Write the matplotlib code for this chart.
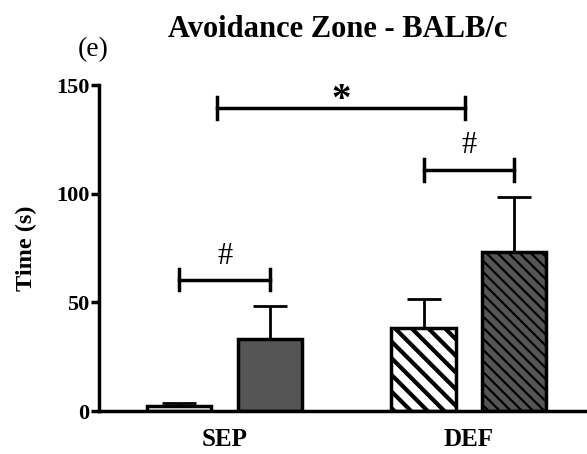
import numpy as np
import matplotlib
matplotlib.use('Agg')
import matplotlib.pyplot as plt

plt.rcParams['font.family'] = 'Liberation Serif'

groups = ['SEP', 'DEF']
means = [2.5, 33, 38, 73]
errs = [1.0, 15.5, 13.5, 25.5]
xs = [-0.186, 0.186, 1 - 0.186, 1 + 0.186]
colors = ['white', '#555555', 'white', '#555555']
hatches = [None, None, '\\\\', '\\\\\\']
hatch_lw = [1, 1, 3.0, 1.6]

fig = plt.figure(figsize=(5.87, 4.54), dpi=100)
ax = fig.add_axes([0.169, 0.0947, 0.831, 0.718])

w = 0.262
for x, m, e, c, h, hl in zip(xs, means, errs, colors, hatches, hatch_lw):
    plt.rcParams['hatch.linewidth'] = hl
    b = ax.bar(x, m, width=w, color=c, edgecolor='black', linewidth=2.5, hatch=h, zorder=2)
    for p in b:
        if hasattr(p, 'set_hatch_linewidth'):
            p.set_hatch_linewidth(hl)
    ax.errorbar(x, m, yerr=[[0], [e]], fmt='none', ecolor='black', elinewidth=2,
                capsize=12, capthick=2, zorder=1)

# significance brackets
def bracket(x1, x2, y, label, ly, fs, fw='normal'):
    ax.plot([x1, x2], [y, y], color='black', lw=2.5, clip_on=False)
    for xx in (x1, x2):
        ax.plot([xx, xx], [y - 5, y + 5], color='black', lw=2.5, clip_on=False)
    ax.text((x1 + x2) / 2, ly, label, ha='center', va='center', fontsize=fs, fontweight=fw)

bracket(xs[0], xs[1], 60.5, '#', 71, 22)
bracket(-0.03, 0.985, 139.5, '*', 143, 28, 'bold')
bracket(xs[2], xs[3], 111, '#', 122, 22)

ax.set_xlim(-0.513, 1.483)
ax.set_ylim(0, 150)
ax.set_yticks([0, 50, 100, 150])
ax.set_xticks([0, 1])
ax.set_xticklabels(groups, fontsize=18, fontweight='bold')
ax.tick_params(axis='x', length=0, pad=12)
ax.tick_params(axis='y', length=6, width=2.5, labelsize=16, pad=1)
for lab in ax.get_yticklabels():
    lab.set_fontweight('bold')
ax.set_ylabel('Time (s)', fontsize=17.5, fontweight='bold', labelpad=14)
for s in ['top', 'right']:
    ax.spines[s].set_visible(False)
for s in ['left', 'bottom']:
    ax.spines[s].set_linewidth(2.5)

fig.text(0.576, 0.934, 'Avoidance Zone - BALB/c', ha='center', va='center',
         fontsize=22, fontweight='bold')
fig.text(0.158, 0.89, '(e)', ha='center', va='center', fontsize=20)

fig.savefig('out.png', dpi=100)
